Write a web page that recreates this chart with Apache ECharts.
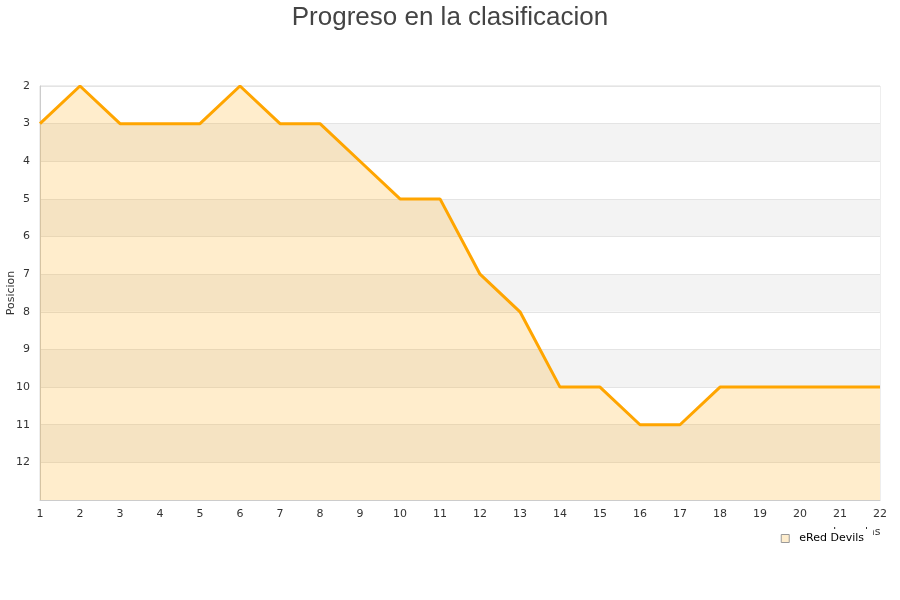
<!DOCTYPE html>
<html><head><meta charset="utf-8">
<script src="https://cdn.jsdelivr.net/npm/echarts@6/dist/echarts.min.js"></script>
<style>html,body{margin:0;padding:0;background:#fff}#c{width:900px;height:600px}</style>
</head><body><div id="c"></div>
<script>
const jornadas = ['1','2','3','4','5','6','7','8','9','10','11','12','13','14','15','16','17','18','19','20','21','22'];
const posiciones = [3,2,3,3,3,2,3,3,4,5,5,7,8,10,10,11,11,10,10,10,10,10];
const teamName = 'eRed Devils';
const chart = echarts.init(document.getElementById('c'));
chart.setOption({
  backgroundColor:'#fff',
  animation:false,
  title:{text:'Progreso en la clasificacion',left:'center',top:0,textStyle:{fontFamily:'Liberation Sans',fontSize:26,fontWeight:'normal',color:'#444'}},
  grid:{left:40,right:20,top:86,bottom:100,containLabel:false,outerBoundsMode:'none',show:true,borderColor:'#ddd',borderWidth:1,backgroundColor:'transparent'},
  legend:{data:[teamName],right:27,top:529,itemWidth:8,itemHeight:8,icon:'rect',backgroundColor:'#fff',padding:[4,9,4,8],
    itemStyle:{color:'#FEEDCD',borderColor:'#999',borderWidth:1},
    textStyle:{fontFamily:'DejaVu Sans',fontSize:11,color:'#000',padding:[0,0,0,5]}},
  xAxis:{type:'category',data:jornadas,boundaryGap:false,name:'Jornadas',nameLocation:'end',nameGap:0,
    nameTextStyle:{fontFamily:'DejaVu Sans',fontSize:11,color:'#333',padding:[27,0,0,-47],verticalAlign:'top'},
    axisLine:{lineStyle:{color:'#ccc'}},axisTick:{show:false},
    axisLabel:{fontFamily:'DejaVu Sans',fontSize:11,color:'#333',margin:9},splitLine:{show:false}},
  yAxis:{type:'value',inverse:true,min:2,max:13,interval:1,name:'Posicion',nameLocation:'middle',nameGap:23,nameMoveOverlap:false,
    nameTextStyle:{fontFamily:'DejaVu Sans',fontSize:11,color:'#333'},
    axisLine:{show:true,lineStyle:{color:'#ccc'}},axisTick:{show:false},
    axisLabel:{fontFamily:'DejaVu Sans',fontSize:11,color:'#333',margin:10,formatter:v=>v===13?'':String(v)},
    splitLine:{show:true,lineStyle:{color:'#e4e4e4'}},
    splitArea:{show:true,areaStyle:{color:['#ffffff','#f3f3f3']}}},
  series:[{name:teamName,type:'line',data:posiciones,symbol:'none',
    lineStyle:{color:'#FFA500',width:3},itemStyle:{color:'#FEEDCD',borderColor:'#999',borderWidth:1},
    areaStyle:{color:'rgba(255,165,0,0.2)',opacity:1,origin:'end'}}]
});
</script></body></html>
